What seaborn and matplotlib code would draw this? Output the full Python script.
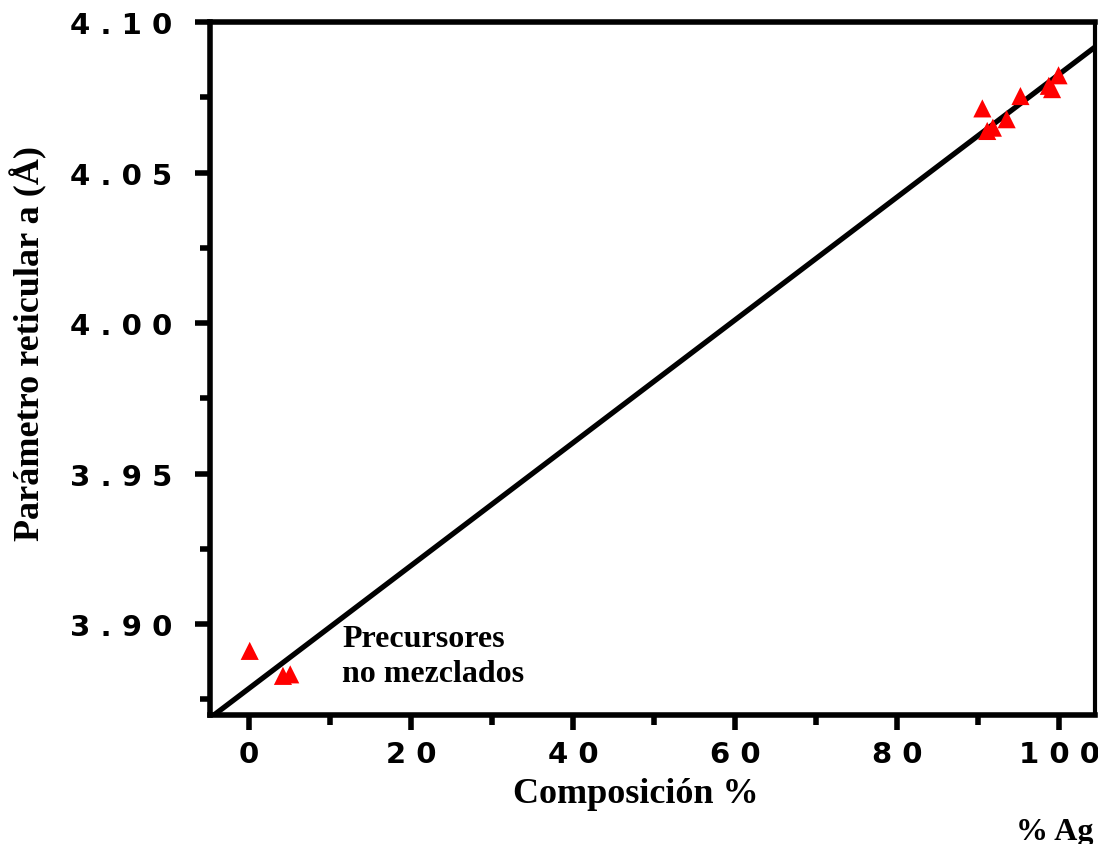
import matplotlib
matplotlib.use("Agg")
import matplotlib.pyplot as plt
import seaborn as sns
import pandas as pd
from matplotlib.ticker import FixedLocator, FixedFormatter

# Measured lattice parameters vs. Ag content
comp_ag = [0.1, 4.2, 5.1, 90.5, 91.1, 91.8, 93.5, 95.2, 98.7, 99.1, 99.9]
lattice_a = [3.8911, 3.8828, 3.8833, 4.0713, 4.0638, 4.0649, 4.0677,
             4.0754, 4.0788, 4.0777, 4.0823]

# Vegard's-law reference line (two points defining it)
vegard_x = [0, 100]
vegard_y = [3.8786, 4.0827]

# Tick positions and labels
x_ticks = [0, 20, 40, 60, 80, 100]
x_tick_labels = ["0", "2 0", "4 0", "6 0", "8 0", "1 0 0"]
y_ticks = [3.90, 3.95, 4.00, 4.05, 4.10]
y_tick_labels = ["3 . 9 0", "3 . 9 5", "4 . 0 0", "4 . 0 5", "4 . 1 0"]

sns.set_style("ticks")
plt.rcParams["font.family"] = ["DejaVu Sans"]
plt.rcParams["text.color"] = "black"
plt.rcParams["axes.labelcolor"] = "black"
plt.rcParams["xtick.color"] = "black"
plt.rcParams["ytick.color"] = "black"

df = pd.DataFrame({"comp": comp_ag, "a": lattice_a})

fig = plt.figure(figsize=(10.98, 8.45), dpi=100)
ax = fig.add_axes([210 / 1098, 1 - 716 / 845, 885 / 1098, 693 / 845])

ax.axline((vegard_x[0], vegard_y[0]), (vegard_x[1], vegard_y[1]),
          color="black", lw=3.8, zorder=2)
sns.scatterplot(data=df, x="comp", y="a", marker="^", s=170, color="#ff0000",
                edgecolor="none", linewidth=0, ax=ax, zorder=3, legend=False)

ax.set_xlim(-4.8, 104.4)
ax.set_ylim(3.8698, 4.10)

ax.xaxis.set_major_locator(FixedLocator(x_ticks))
ax.xaxis.set_major_formatter(FixedFormatter(x_tick_labels))
ax.xaxis.set_minor_locator(FixedLocator([10, 30, 50, 70, 90]))
ax.yaxis.set_major_locator(FixedLocator(y_ticks))
ax.yaxis.set_major_formatter(FixedFormatter(y_tick_labels))
ax.yaxis.set_minor_locator(FixedLocator([3.875, 3.925, 3.975, 4.025, 4.075]))

for side in ["left", "bottom", "top"]:
    ax.spines[side].set_linewidth(4)
ax.spines["right"].set_linewidth(3)
for s in ax.spines.values():
    s.set_color("black")
    s.set_visible(True)

ax.tick_params(axis="both", which="major", direction="out", length=11, width=4,
               color="black", labelsize=21, labelcolor="black")
ax.tick_params(axis="both", which="minor", direction="out", length=7, width=4,
               color="black")
ax.tick_params(axis="y", which="major", pad=16)
ax.tick_params(axis="x", which="major", pad=7)
ax.tick_params(top=False, right=False, which="both")
for lab in ax.get_xticklabels() + ax.get_yticklabels():
    lab.set_fontweight("bold")
for ln in ax.xaxis.get_ticklines(minor=True) + ax.yaxis.get_ticklines(minor=True) \
        + ax.xaxis.get_ticklines() + ax.yaxis.get_ticklines():
    ln.set_solid_capstyle("round")

serif = dict(family=["Liberation Serif", "DejaVu Serif"], fontweight="bold",
             color="black")
ax.set_xlabel("Composición %", fontsize=26, va="baseline", **serif)
ax.xaxis.set_label_coords((635.5 - 210) / 885, -(803 - 716) / 693)
ax.set_ylabel("Parámetro reticular a (Å)", fontsize=26, va="center", **serif)
ax.yaxis.set_label_coords((29 - 210) / 885, (716 - 344) / 693)

ax.text(11.5, 3.9000, "Precursores\nno mezclados", fontsize=23, va="top",
        ha="left", linespacing=1.25, **serif)
fig.text(1093 / 1098, 1 - 840 / 845, "% Ag", fontsize=23, ha="right",
         va="baseline", **serif)

fig.savefig("out.png", dpi=100)
